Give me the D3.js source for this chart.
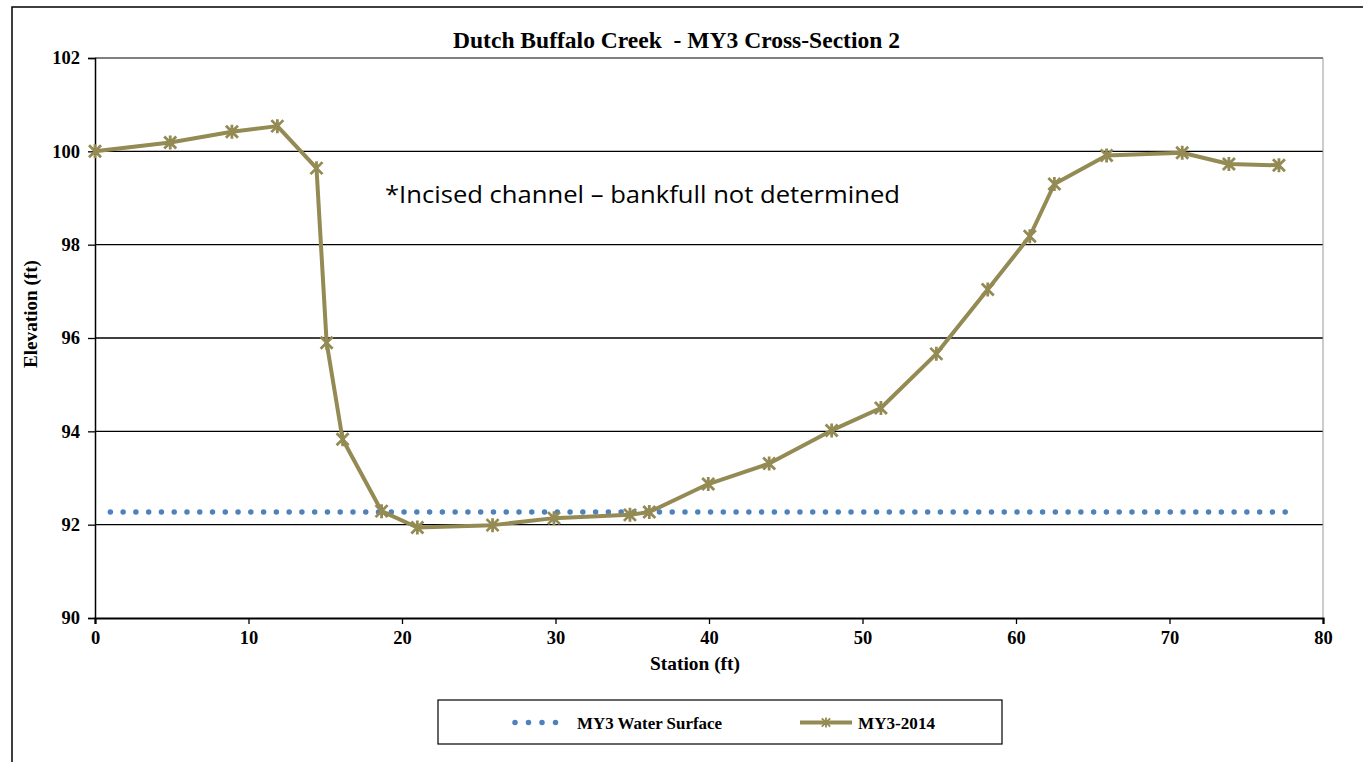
<!DOCTYPE html>
<html><head><meta charset="utf-8">
<script src="https://cdn.jsdelivr.net/npm/d3@7"></script>
<style>body{margin:0;background:#fff;}svg{display:block;}</style>
</head><body>
<script>
const title = "Dutch Buffalo Creek  - MY3 Cross-Section 2";
const xTitle = "Station (ft)";
const yTitle = "Elevation (ft)";
const annotation = "*Incised channel \u2013 bankfull not determined";
const xTicks = [0,10,20,30,40,50,60,70,80];
const yTicks = [90,92,94,96,98,100,102];
const stations = [0,4.9,8.92,11.88,14.43,15.09,16.13,18.67,21.0,25.9,29.9,34.85,36.11,39.95,43.92,47.99,51.2,54.81,58.16,60.9,62.5,65.9,70.83,73.87,77.13];
const elevations = [100.0,100.19,100.42,100.54,99.64,95.9,93.83,92.29,91.94,91.99,92.14,92.21,92.27,92.87,93.31,94.02,94.5,95.66,97.04,98.18,99.3,99.91,99.97,99.73,99.7];
const waterStations = [1.0,77.7];
const waterElev = [92.27,92.27];
const seriesNames = ["MY3 Water Surface","MY3-2014"];

const W=1363,H=762;
const svg=d3.select("body").append("svg").attr("width",W).attr("height",H);
const x=d3.scaleLinear().domain([0,80]).range([95,1323]);
const y=d3.scaleLinear().domain([90,102]).range([618,58]);
const serif="'Liberation Serif','Times New Roman',serif";
const olive="#948A54", blue="#4F81BD";

// outer chart border
svg.append("path").attr("d","M12,"+H+" L12,7 L"+W+",7").attr("fill","none").attr("stroke","#000").attr("stroke-width",1.5);

// gridlines
svg.append("g").selectAll("line").data(yTicks.filter(v=>v>90&&v<102)).join("line")
 .attr("x1",x(0)).attr("x2",x(80)).attr("y1",d=>y(d)).attr("y2",d=>y(d))
 .attr("stroke","#000").attr("stroke-width",1.3);
// plot border top & right
svg.append("line").attr("x1",x(0)).attr("x2",x(80)).attr("y1",y(102)).attr("y2",y(102)).attr("stroke","#808080").attr("stroke-width",2);
svg.append("line").attr("x1",x(80)).attr("x2",x(80)).attr("y1",y(102)).attr("y2",y(90)).attr("stroke","#999").attr("stroke-width",1);

// axes
const yAxis=svg.append("g").attr("transform",`translate(${x(0)},0)`)
 .call(d3.axisLeft(y).tickValues(yTicks).tickSize(7).tickPadding(8).tickFormat(d3.format("d")));
const xAxis=svg.append("g").attr("transform",`translate(0,${y(90)})`)
 .call(d3.axisBottom(x).tickValues(xTicks).tickSize(6).tickPadding(7).tickFormat(d3.format("d")));
[yAxis,xAxis].forEach(g=>{
 g.selectAll("path").attr("stroke","#000").attr("stroke-width",1.5);
 g.selectAll("line").attr("stroke","#000").attr("stroke-width",1.3);
 g.selectAll("text").attr("font-family",serif).attr("font-weight","bold").attr("font-size",18.5).attr("fill","#000");
});
xAxis.select("path").attr("stroke-width",2.2);

// water surface
const water=waterStations.map((s,i)=>[s,waterElev[i]]);
svg.append("path").datum(water).attr("d",d3.line().x(d=>x(d[0])).y(d=>y(d[1])))
 .attr("fill","none").attr("stroke",blue).attr("stroke-width",5.5).attr("stroke-linecap","round").attr("stroke-dasharray","0 12.77");

// cross-section line
const pts=stations.map((s,i)=>[s,elevations[i]]);
svg.append("path").datum(pts).attr("d",d3.line().x(d=>x(d[0])).y(d=>y(d[1])))
 .attr("fill","none").attr("stroke",olive).attr("stroke-width",4).attr("stroke-linejoin","round");
const star="M-6,-6L6,6M-6,6L6,-6M0,-7L0,7";
svg.append("g").selectAll("path").data(pts).join("path")
 .attr("transform",d=>`translate(${x(d[0])},${y(d[1])})`).attr("d",star)
 .attr("fill","none").attr("stroke",olive).attr("stroke-width",2.8);

// titles
svg.append("text").attr("x",453).attr("y",48).attr("font-family",serif).style("white-space","pre")
 .attr("font-weight","bold").attr("font-size",24).attr("textLength",447).attr("lengthAdjust","spacingAndGlyphs").text(title);
svg.append("text").attr("x",650).attr("y",670).attr("font-family",serif)
 .attr("font-weight","bold").attr("font-size",19.5).attr("textLength",90).attr("lengthAdjust","spacingAndGlyphs").text(xTitle);
svg.append("text").attr("transform","translate(37,368) rotate(-90)").attr("font-family",serif)
 .attr("font-weight","bold").attr("font-size",19).attr("textLength",108).attr("lengthAdjust","spacingAndGlyphs").text(yTitle);
svg.append("text").attr("x",385).attr("y",203).attr("font-family","'Open Sans','Noto Sans',sans-serif")
 .attr("font-size",23).attr("textLength",515).attr("lengthAdjust","spacingAndGlyphs").attr("fill","#000").text(annotation);

// legend
const lg=svg.append("g");
lg.append("rect").attr("x",438).attr("y",700).attr("width",564).attr("height",44).attr("fill","#fff").attr("stroke","#000").attr("stroke-width",1.2);
lg.append("line").attr("x1",515).attr("x2",569).attr("y1",722.5).attr("y2",722.5).attr("stroke",blue).attr("stroke-width",5.5)
 .attr("stroke-linecap","round").attr("stroke-dasharray","0 13.5");
lg.append("text").attr("x",577).attr("y",728.5).attr("font-family",serif).attr("font-weight","bold").attr("font-size",17)
 .attr("textLength",145).attr("lengthAdjust","spacingAndGlyphs").text(seriesNames[0]);
lg.append("line").attr("x1",800).attr("x2",852).attr("y1",722.5).attr("y2",722.5).attr("stroke",olive).attr("stroke-width",4);
lg.append("path").attr("transform","translate(826,722.5) scale(0.7)").attr("d",star).attr("fill","none").attr("stroke",olive).attr("stroke-width",2.6);
lg.append("text").attr("x",858).attr("y",728.5).attr("font-family",serif).attr("font-weight","bold").attr("font-size",17)
 .attr("textLength",77).attr("lengthAdjust","spacingAndGlyphs").text(seriesNames[1]);
</script>
</body></html>
